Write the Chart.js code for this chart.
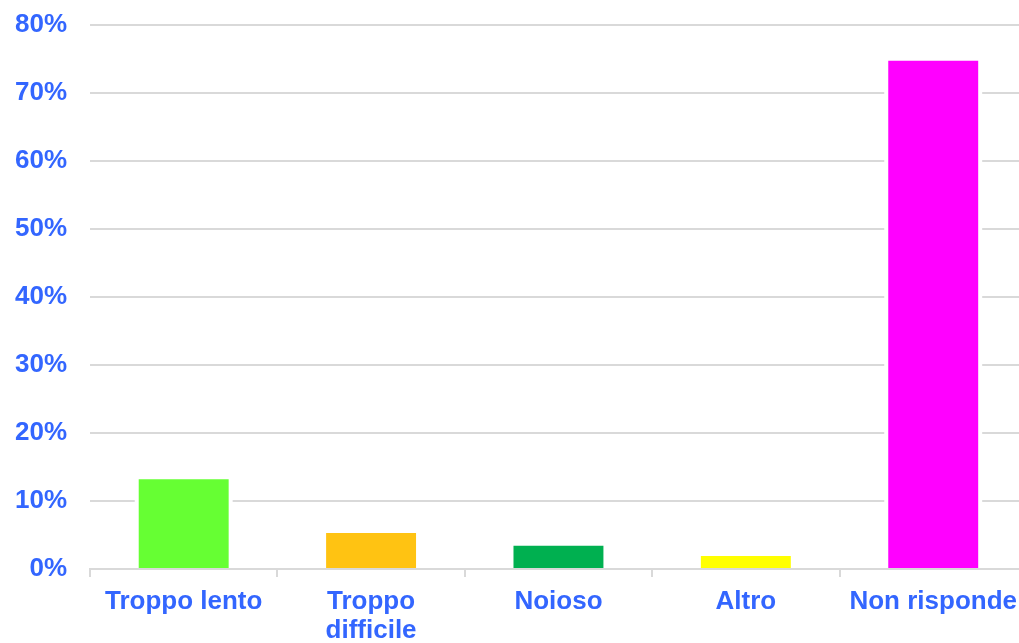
<!DOCTYPE html>
<html>
<head>
<meta charset="utf-8">
<script src="https://cdn.jsdelivr.net/npm/chart.js@4/dist/chart.umd.min.js"></script>
<style>
  html, body { margin: 0; padding: 0; background: #fff; overflow: hidden; }
  #wrap { width: 1028px; height: 657px; margin-top: -14px; }
</style>
</head>
<body>
<div id="wrap"><canvas id="chart"></canvas></div>
<script>
const categories = ['Troppo lento', ['Troppo', 'difficile'], 'Noioso', 'Altro', 'Non risponde'];
const percentages = [13.2, 5.3, 3.4, 1.9, 74.7];
const barColors = ['#66FF33', '#FFC312', '#00B050', '#FFFF00', '#FF00FF'];

const labelBlue = '#3366FF';
const gridGrey = '#d9d9d9';
const labelFont = 'Liberation Sans, Arial, sans-serif';

// white halo around each bar so the gridlines stop short of it
const barHalo = {
    id: 'barHalo',
    beforeDatasetsDraw(chart) {
        const ctx = chart.ctx;
        const meta = chart.getDatasetMeta(0);
        ctx.save();
        ctx.fillStyle = '#fff';
        meta.data.forEach(bar => {
            const w = bar.width;
            ctx.fillRect(bar.x - w / 2 - 4, bar.y - 4, w + 8, bar.base - bar.y + 2.5);
        });
        ctx.restore();
    }
};

new Chart(document.getElementById('chart'), {
    type: 'bar',
    data: {
        labels: categories,
        datasets: [{
            data: percentages,
            backgroundColor: barColors,
            borderWidth: 0,
            barPercentage: 0.48,
            categoryPercentage: 1
        }]
    },
    options: {
        responsive: true,
        maintainAspectRatio: false,
        animation: false,
        layout: { padding: 0 },
        plugins: {
            legend: { display: false },
            tooltip: { enabled: false }
        },
        scales: {
            x: {
                grid: {
                    drawOnChartArea: false,
                    drawTicks: true,
                    tickLength: 8,
                    color: gridGrey,
                    lineWidth: 2
                },
                border: { display: true, color: gridGrey, width: 2 },
                ticks: {
                    color: labelBlue,
                    padding: 11,
                    maxRotation: 0,
                    autoSkip: false,
                    font: { family: labelFont, size: 26, weight: 'bold', lineHeight: 1.1 }
                },
                afterFit(scale) { scale.height = 74; }
            },
            y: {
                min: 0,
                max: 80,
                grid: { drawTicks: false, color: gridGrey, lineWidth: 2 },
                border: { display: false },
                ticks: {
                    stepSize: 10,
                    color: labelBlue,
                    padding: 23,
                    font: { family: labelFont, size: 26, weight: 'bold' },
                    callback: v => v + '%'
                },
                afterFit(scale) { scale.width = 90; }
            }
        }
    },
    plugins: [barHalo]
});
</script>
</body>
</html>
